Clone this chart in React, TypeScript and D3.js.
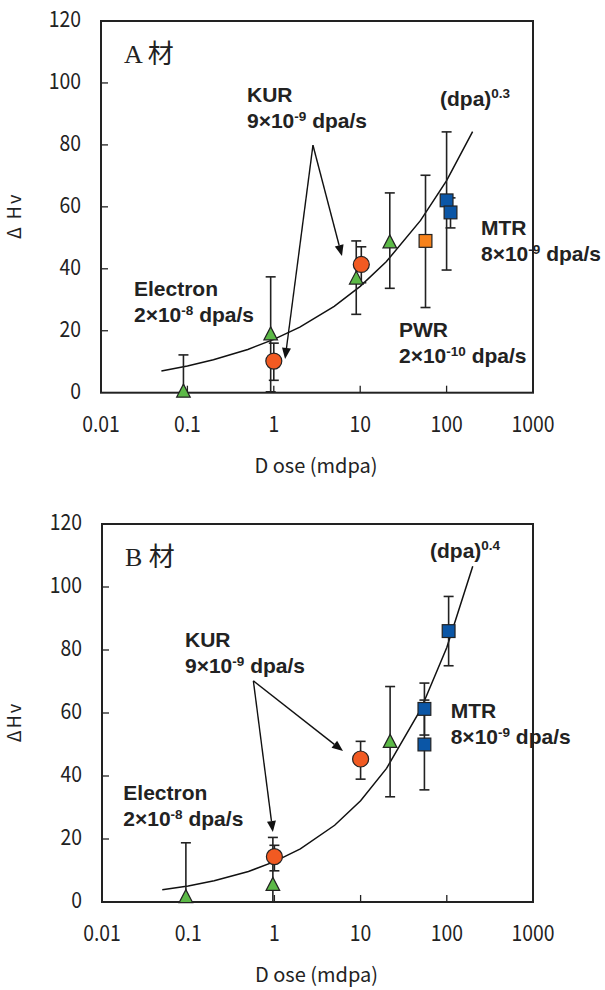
import React from "react";
import * as d3 from "d3";

// Shared axes
const doseTicks = [0.01, 0.1, 1, 10, 100, 1000];
const doseTickLabels = ["0.01", "0.1", "1", "10", "100", "1000"];
const hvTicks = [0, 20, 40, 60, 80, 100, 120];
const innerDoseTicks = [0.1, 1, 10, 100];
const innerHvTicks = [20, 40, 60, 80, 100];

// Material A — electron irradiation (triangles)
const aElectronDose = [0.09, 0.92, 9, 22];
const aElectronHv = [0.5, 19, 37, 48.7];
const aElectronLow = [0, 0.3, 25.3, 33.7];
const aElectronHigh = [12.2, 37.4, 49, 64.5];

// Material A — KUR (circles)
const aKurDose = [1, 10.3];
const aKurHv = [10.2, 41.4];
const aKurLow = [4, 35.5];
const aKurHigh = [16, 47.1];

// Material A — PWR (orange square)
const aPwrDose = [57];
const aPwrHv = [49];
const aPwrLow = [27.5];
const aPwrHigh = [70.2];

// Material A — MTR (blue squares)
const aMtrDose = [100, 111];
const aMtrHv = [62.1, 58.2];
const aMtrLow = [39.6, 53.2];
const aMtrHigh = [84.2, 62.9];

// Material A — power-law fit
const aFitDose = [0.05, 0.1, 0.2, 0.5, 1, 2, 5, 10, 20, 50, 100, 200];
const aFitCoef = 17.2;
const aFitExp = 0.3;

// Material B — electron irradiation (triangles)
const bElectronDose = [0.094, 0.96, 22];
const bElectronHv = [1.7, 5.6, 51];
const bElectronLow = [0, 0, 33.4];
const bElectronHigh = [18.8, 20.5, 68.4];

// Material B — KUR (circles)
const bKurDose = [1, 10];
const bKurHv = [14.4, 45.4];
const bKurLow = [9.9, 39];
const bKurHigh = [18, 51];

// Material B — MTR (blue squares)
const bMtrDose = [55, 55, 105];
const bMtrHv = [61.3, 50, 86];
const bMtrLow = [53, 35.6, 75];
const bMtrHigh = [69.5, 64.1, 97];

// Material B — power-law fit
const bFitDose = [0.05, 0.1, 0.2, 0.5, 1, 2, 5, 10, 20, 50, 100, 200];
const bFitCoef = 12.8;
const bFitExp = 0.4;

type Pt = { dose: number; hv: number; low: number; high: number };
const zip = (dose: number[], hv: number[], low: number[], high: number[]): Pt[] =>
  dose.map((d, i) => ({ dose: d, hv: hv[i], low: low[i], high: high[i] }));

const INK = "#222";
const GREEN = "#5cb947";
const RED = "#f15a22";
const ORANGE = "#f7821b";
const BLUE = "#0b56a6";
const TICK_FONT = "'Noto Sans CJK JP', 'Noto Sans', sans-serif";
const NOTE_FONT = "'Liberation Sans', Arial, sans-serif";

type Box = { left: number; right: number; top: number; bottom: number };

function ErrorBars({ pts, x, y }: { pts: Pt[]; x: any; y: any }) {
  return (
    <g stroke={INK} strokeWidth={1.6} fill="none">
      {pts.map((p, i) => {
        const cx = x(p.dose);
        return (
          <g key={i}>
            <line x1={cx} x2={cx} y1={y(p.low)} y2={y(p.high)} />
            <line x1={cx - 5} x2={cx + 5} y1={y(p.low)} y2={y(p.low)} />
            <line x1={cx - 5} x2={cx + 5} y1={y(p.high)} y2={y(p.high)} />
          </g>
        );
      })}
    </g>
  );
}

function Triangles({ pts, x, y }: { pts: Pt[]; x: any; y: any }) {
  return (
    <g fill={GREEN} stroke={INK} strokeWidth={1.2}>
      {pts.map((p, i) => {
        const cx = x(p.dose);
        const cy = y(p.hv);
        return <path key={i} d={`M${cx},${cy - 7}L${cx + 6.8},${cy + 6}L${cx - 6.8},${cy + 6}Z`} />;
      })}
    </g>
  );
}

function Circles({ pts, x, y }: { pts: Pt[]; x: any; y: any }) {
  return (
    <g fill={RED} stroke={INK} strokeWidth={1.2}>
      {pts.map((p, i) => (
        <circle key={i} cx={x(p.dose)} cy={y(p.hv)} r={8} />
      ))}
    </g>
  );
}

function Squares({ pts, x, y, fill }: { pts: Pt[]; x: any; y: any; fill: string }) {
  return (
    <g fill={fill} stroke={INK} strokeWidth={1.2}>
      {pts.map((p, i) => (
        <rect key={i} x={x(p.dose) - 6.4} y={y(p.hv) - 6.4} width={12.8} height={12.8} />
      ))}
    </g>
  );
}

function Arrow({ from, to }: { from: [number, number]; to: [number, number] }) {
  const dx = to[0] - from[0];
  const dy = to[1] - from[1];
  const len = Math.hypot(dx, dy);
  const ux = dx / len;
  const uy = dy / len;
  const headLen = 11;
  const headHalf = 4.5;
  const bx = to[0] - ux * headLen;
  const by = to[1] - uy * headLen;
  return (
    <g>
      <line x1={from[0]} y1={from[1]} x2={bx} y2={by} stroke="#111" strokeWidth={1.4} />
      <path
        d={`M${to[0]},${to[1]}L${bx - uy * headHalf},${by + ux * headHalf}L${bx + uy * headHalf},${by - ux * headHalf}Z`}
        fill="#111"
      />
    </g>
  );
}

function Note({
  x,
  y,
  head,
  base,
  sup,
}: {
  x: number;
  y: number;
  head: string;
  base: string;
  sup: string;
}) {
  return (
    <g fontFamily={NOTE_FONT} fontWeight="bold" fill={INK} style={{ whiteSpace: "pre" }}>
      <text x={x} y={y} fontSize={21}>
        {head}
      </text>
      <text x={x} y={y + 26} fontSize={21}>
        {base}
        <tspan dy={-7} fontSize={13.5}>
          {sup}
        </tspan>
        <tspan dy={7} fontSize={21}>
          {" dpa/s"}
        </tspan>
      </text>
    </g>
  );
}

function Panel({
  box,
  material,
  yTitle,
  groups,
  fitDose,
  fitCoef,
  fitExp,
  apex,
  tips,
  children,
}: {
  box: Box;
  material: string;
  yTitle: string;
  groups: any;
  fitDose: number[];
  fitCoef: number;
  fitExp: number;
  apex: [number, number];
  tips: [number, number][];
  children?: (x: any, y: any) => React.ReactNode;
}) {
  const x = d3.scaleLog().domain([0.01, 1000]).range([box.left, box.right]);
  const y = d3.scaleLinear().domain([0, 120]).range([box.bottom, box.top]);
  const fit = d3
    .line<number>()
    .x((d) => x(d))
    .y((d) => y(fitCoef * Math.pow(d, fitExp)))(fitDose) as string;
  const apexPx: [number, number] = [x(apex[0]), y(apex[1])];
  const midY = (box.top + box.bottom) / 2;
  return (
    <g>
      {/* frame */}
      <rect
        x={box.left}
        y={box.top}
        width={box.right - box.left}
        height={box.bottom - box.top}
        fill="none"
        stroke={INK}
        strokeWidth={2}
      />
      {/* inward ticks */}
      <g stroke={INK} strokeWidth={1.3}>
        {innerDoseTicks.map((t) => (
          <line key={t} x1={x(t)} x2={x(t)} y1={box.bottom} y2={box.bottom - 7} />
        ))}
        {innerHvTicks.map((t) => (
          <line key={t} x1={box.left} x2={box.left + 7} y1={y(t)} y2={y(t)} />
        ))}
      </g>
      {/* tick labels */}
      <g fontFamily={TICK_FONT} fontSize={22} fill={INK}>
        {doseTicks.map((t, i) => (
          <text
            key={t}
            transform={`translate(${x(t)},${box.bottom + 39}) scale(0.88,1)`}
            textAnchor="middle"
          >
            {doseTickLabels[i]}
          </text>
        ))}
        {hvTicks.map((t) => (
          <text key={t} transform={`translate(${box.left - 20},${y(t) + 6}) scale(0.88,1)`} textAnchor="end">
            {t}
          </text>
        ))}
      </g>
      {/* axis titles */}
      <text
        transform={`translate(${(box.left + box.right) / 2 - 1},${box.bottom + 80})`}
        textAnchor="middle"
        fontFamily={TICK_FONT}
        fontSize={20}
        fill={INK}
        style={{ whiteSpace: "pre" }}
      >
        {"D ose (mdpa)"}
      </text>
      <text
        transform={`translate(21,${midY + 9}) rotate(-90)`}
        textAnchor="middle"
        fontFamily={TICK_FONT}
        fontSize={18}
        fill={INK}
        letterSpacing={2}
        style={{ whiteSpace: "pre" }}
      >
        {yTitle}
      </text>
      {/* fitted power law */}
      <path d={fit} fill="none" stroke="#111" strokeWidth={1.5} />
      {/* data */}
      {groups && groups(x, y)}
      {/* annotation arrows */}
      {tips.map((t, i) => (
        <Arrow key={i} from={apexPx} to={[x(t[0]), y(t[1])]} />
      ))}
      {/* material label */}
      <text
        x={box.left + 23}
        y={box.top + 42}
        fontFamily="'Liberation Serif', 'Noto Sans CJK JP', serif"
        fontSize={26}
        fill={INK}
        style={{ whiteSpace: "pre" }}
      >
        {material}
      </text>
      {children && children(x, y)}
    </g>
  );
}

export default function App() {
  const aElectron = zip(aElectronDose, aElectronHv, aElectronLow, aElectronHigh);
  const aKur = zip(aKurDose, aKurHv, aKurLow, aKurHigh);
  const aPwr = zip(aPwrDose, aPwrHv, aPwrLow, aPwrHigh);
  const aMtr = zip(aMtrDose, aMtrHv, aMtrLow, aMtrHigh);
  const bElectron = zip(bElectronDose, bElectronHv, bElectronLow, bElectronHigh);
  const bKur = zip(bKurDose, bKurHv, bKurLow, bKurHigh);
  const bMtr = zip(bMtrDose, bMtrHv, bMtrLow, bMtrHigh);

  const boxA: Box = { left: 101, right: 533, top: 21, bottom: 392.7 };
  const boxB: Box = { left: 102, right: 533, top: 524, bottom: 902 };

  return (
    <svg width={605} height={990} style={{ position: "absolute", left: 0, top: 0, background: "#fff" }}>
      <rect width={605} height={990} fill="#fff" />
      <Panel
        box={boxA}
        material="A 材"
        yTitle="Δ Hv"
        fitDose={aFitDose}
        fitCoef={aFitCoef}
        fitExp={aFitExp}
        apex={[2.84, 79.9]}
        tips={[
          [1.35, 10.9],
          [6.15, 44.1],
        ]}
        groups={(x: any, y: any) => (
          <g>
            <ErrorBars pts={[...aElectron, ...aKur, ...aPwr, ...aMtr]} x={x} y={y} />
            <Triangles pts={aElectron} x={x} y={y} />
            <Circles pts={aKur} x={x} y={y} />
            <Squares pts={aPwr} x={x} y={y} fill={ORANGE} />
            <Squares pts={aMtr} x={x} y={y} fill={BLUE} />
          </g>
        )}
      >
        {() => (
          <g>
            <Note x={247} y={101.7} head="KUR" base="9×10" sup="-9" />
            <Note x={481} y={235} head="MTR" base="8×10" sup="-9" />
            <Note x={399} y={336.7} head="PWR" base="2×10" sup="-10" />
            <Note x={134} y={295.7} head="Electron" base="2×10" sup="-8" />
            <text x={440} y={106} fontFamily={NOTE_FONT} fontWeight="bold" fontSize={21} fill={INK}>
              (dpa)
              <tspan dy={-8} fontSize={13.5}>
                0.3
              </tspan>
            </text>
          </g>
        )}
      </Panel>
      <Panel
        box={boxB}
        material="B 材"
        yTitle="ΔHv"
        fitDose={bFitDose}
        fitCoef={bFitCoef}
        fitExp={bFitExp}
        apex={[0.57, 70.2]}
        tips={[
          [0.96, 22.2],
          [6.25, 47.9],
        ]}
        groups={(x: any, y: any) => (
          <g>
            <ErrorBars pts={[...bElectron, ...bKur, ...bMtr]} x={x} y={y} />
            <Triangles pts={bElectron} x={x} y={y} />
            <Circles pts={bKur} x={x} y={y} />
            <Squares pts={bMtr} x={x} y={y} fill={BLUE} />
          </g>
        )}
      >
        {() => (
          <g>
            <Note x={185} y={646.7} head="KUR" base="9×10" sup="-9" />
            <Note x={450.7} y={718.3} head="MTR" base="8×10" sup="-9" />
            <Note x={123.3} y={800} head="Electron" base="2×10" sup="-8" />
            <text x={430} y={558} fontFamily={NOTE_FONT} fontWeight="bold" fontSize={21} fill={INK}>
              (dpa)
              <tspan dy={-8} fontSize={13.5}>
                0.4
              </tspan>
            </text>
          </g>
        )}
      </Panel>
    </svg>
  );
}
